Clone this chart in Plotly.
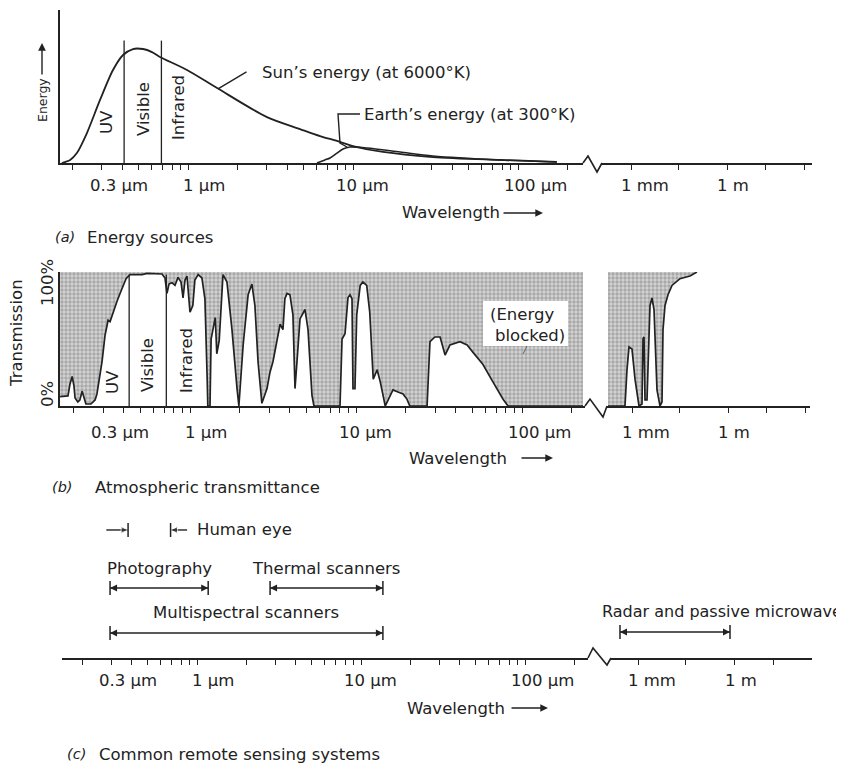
import math
import plotly.graph_objects as go

W, H = 844, 765
OFF = 8  # page body margin of the browser
INK = "#222222"
FONT = "DejaVu Sans"
FS = 16.5

# ---------------- data (wavelengths in µm) ----------------
# (a) Energy sources: relative spectral energy
sun_wavelength = [0.172, 0.193, 0.212, 0.244, 0.293, 0.351, 0.404, 0.464, 0.534, 0.605, 0.676,
                  0.986, 1.50, 3.01, 4.77, 6.31, 8.0, 10.0, 15.2, 30.5, 77.8, 172]
sun_energy = [0, 0.02, 0.065, 0.196, 0.412, 0.608, 0.706, 0.745, 0.745, 0.725, 0.693,
              0.608, 0.49, 0.30, 0.222, 0.176, 0.144, 0.111, 0.072, 0.039, 0.02, 0.007]
earth_wavelength = [6.05, 6.76, 7.26, 8.0, 8.7, 9.59, 12.2, 19.3, 30.5, 77.8, 172]
earth_energy = [0, 0.02, 0.033, 0.065, 0.092, 0.105, 0.098, 0.072, 0.046, 0.02, 0.007]
band_edges_a = [0.41, 0.69]
band_top_a = 0.80
band_names = ["UV", "Visible", "Infrared"]

# (b) Atmospheric transmittance (%)
trans_wavelength = [0.165, 0.184, 0.189, 0.195, 0.200, 0.203, 0.211, 0.217, 0.224, 0.230,
                    0.236, 0.253, 0.268, 0.275, 0.287, 0.295, 0.308, 0.316, 0.321, 0.330,
                    0.344, 0.363, 0.379, 0.395, 0.412, 0.435, 0.514, 0.551, 0.678, 0.707,
                    0.727, 0.747, 0.779, 0.812, 0.847, 0.883, 0.908, 0.933, 0.959, 1.00,
                    1.04, 1.07, 1.12, 1.18, 1.23, 1.27, 1.28, 1.32, 1.34, 1.42,
                    1.45, 1.50, 1.54, 1.58, 1.67, 1.79, 1.92, 1.97, 2.09, 2.24,
                    2.36, 2.46, 2.57, 2.71, 2.91, 3.03, 3.16, 3.34, 3.49, 3.63,
                    3.73, 3.84, 4.00, 4.17, 4.29, 4.41, 4.60, 4.93, 5.14, 5.43,
                    5.58, 8.01, 8.24, 8.59, 8.95, 9.20, 9.46, 9.59, 9.86, 10.1,
                    10.6, 11.0, 11.6, 12.1, 12.7, 13.4, 14.0, 15.0, 16.0, 16.7,
                    17.9, 19.2, 20.3, 21.1, 26.8, 27.9, 29.9, 32.1, 34.4, 36.8,
                    42.3, 46.7, 50.7, 58.2, 66.8, 76.9, 82.4, 233]
trans_percent = [7, 7.5, 16, 22, 15, 6, 3, 4.5, 11, 6,
                 1.5, 1.5, 4.5, 9, 23, 33, 53, 61, 64, 63,
                 70, 78, 84, 90, 95, 98, 98, 99, 98.5, 95.5,
                 84, 91, 92, 90, 96, 92.5, 80.6, 94, 97, 70,
                 75, 94, 98, 95.5, 80, 19, 0, 0, 50, 66,
                 39, 49, 79, 98, 92.5, 57, 13, 0, 45.5, 83,
                 91, 75, 33, 2, 13, 25, 33, 50, 61, 57,
                 80, 84, 83, 68, 13, 33, 65, 72, 57, 8,
                 0, 0, 50, 54, 81, 83, 80, 13, 13, 68,
                 90, 92.5, 90, 70, 20, 27, 18, 0, 8, 12,
                 10.4, 9, 5, 0, 0, 48, 51.5, 51.5, 38, 45.5,
                 48, 45.5, 40, 31, 18, 5, 0, 0]
trans_mw_wavelength = [178, 604, 698, 806, 1000, 1241, 1656, 2054, 2208, 2371, 2548, 2943,
                       3652, 4217, 4870, 6040, 7499, 8660, 9306, 10750, 13335, 17780,
                       31620, 64940, 107000]
trans_mw_percent = [0, 0, 27, 44, 42.5, 20, 0, 1.5, 50, 51.5, 4.5, 4.5,
                    75, 80.6, 72, 12, 0, 3, 57, 75, 83, 90,
                    95, 97, 100]
band_edges_b = [0.43, 0.72]
band_top_b = 98

# (c) Common remote sensing systems
systems = ["Photography", "Thermal scanners", "Multispectral scanners",
           "Radar and passive microwave"]
system_start = [0.295, 2.79, 0.295, 277]
system_end = [1.17, 13.6, 13.6, 7.05e5]
system_level = [0.473, 0.473, 0.169, 0.176]
eye_range = [0.38, 0.69]
eye_outer = [0.28, 0.87]
eye_level = 0.865

# axis ticks
pre_ticks = [0.2, 0.3, 0.4, 0.5, 0.6, 0.7, 0.8, 0.9, 1, 2, 3, 4, 5, 6, 7, 8, 9,
             10, 20, 30, 40, 50, 60, 70, 80, 90, 100, 200]
post_ticks = [1e3, 3e4, 1e6, 1.6e7, 2.6e8]
pre_label_vals = [0.3, 1, 10, 100]
pre_label_text = ["0.3 µm", "1 µm", "10 µm", "100 µm"]
post_label_vals = [1e3, 1e6]
post_label_text = ["1 mm", "1 m"]
label_shift_pre = [-14, -7, -19, -16]
label_shift_post = [-12, -12]

# ---------------- layout geometry (page pixels) ----------------
def fx(x):
    return (x - OFF) / W


def fy(y):
    return 1 - (y - OFF) / H


P = {
    "a": dict(xpre="x", xpost="x2", y="y", pre_dom=(60, 583), pre_ref=(188, 1.0, 165),
              post_dom=(602, 812), post_ref=(631, 1e3, 32), ydom=(10, 163), yrange=[0, 1],
              base=163, zig=[(583, 163), (588, 156), (597, 172), (602, 163)]),
    "b": dict(xpre="x3", xpost="x4", y="y2", pre_dom=(60, 585), pre_ref=(190, 1.0, 166),
              post_dom=(607, 810), post_ref=(632, 1e3, 32), ydom=(272, 406), yrange=[0, 100],
              base=406, zig=[(585, 406), (590, 399), (603, 417), (607, 406)]),
    "c": dict(xpre="x5", xpost="x6", y="y3", pre_dom=(62, 588), pre_ref=(197, 1.0, 164),
              post_dom=(611, 812), post_ref=(638, 1e3, 32.3), ydom=(510, 658), yrange=[0, 1],
              base=658, zig=[(588, 658), (593, 648), (607, 665), (611, 658)]),
}


def key(name):
    return ("xaxis" if name[0] == "x" else "yaxis") + name[1:]


def log_range(dom, ref):
    rpx, rwl, ppd = ref
    return [math.log10(rwl) + (dom[0] - rpx) / ppd, math.log10(rwl) + (dom[1] - rpx) / ppd]


layout = dict(width=W, height=H, margin=dict(l=0, r=0, t=0, b=0),
              paper_bgcolor="white", plot_bgcolor="rgba(0,0,0,0)", showlegend=False,
              font=dict(family=FONT, size=FS, color=INK))

shapes = []
ann = []

for pid, p in P.items():
    for xn, dom, ref, tv in [(p["xpre"], p["pre_dom"], p["pre_ref"], pre_ticks),
                             (p["xpost"], p["post_dom"], p["post_ref"], post_ticks)]:
        layout[key(xn)] = dict(domain=[fx(dom[0]), fx(dom[1])], type="log",
                               range=log_range(dom, ref), anchor=p["y"],
                               showline=True, linecolor=INK, linewidth=1.6,
                               ticks="outside", ticklen=5, tickwidth=1.3, tickcolor=INK,
                               tickvals=tv, showticklabels=False, showgrid=False,
                               zeroline=False, fixedrange=True)
    layout[key(p["y"])] = dict(domain=[fy(p["ydom"][1]), fy(p["ydom"][0])], range=p["yrange"],
                               anchor=p["xpre"], showline=(pid != "c"), linecolor=INK,
                               linewidth=1.6, ticks="", showticklabels=False, showgrid=False,
                               zeroline=False, visible=(pid != "c"), fixedrange=True)
    # axis break zigzag
    path = "M " + " L ".join(f"{fx(a)},{fy(b)}" for a, b in p["zig"])
    shapes.append(dict(type="path", path=path, xref="paper", yref="paper",
                       line=dict(color=INK, width=1.6)))
    # tick labels
    ly = fy(p["base"] + (22 if pid != "b" else 26))
    for vals, texts, shifts, xn in [(pre_label_vals, pre_label_text, label_shift_pre, p["xpre"]),
                                    (post_label_vals, post_label_text, label_shift_post, p["xpost"])]:
        for v, t, s in zip(vals, texts, shifts):
            ann.append(dict(x=math.log10(v), xref=xn, y=ly, yref="paper", text=t,
                            showarrow=False, xanchor="left", yanchor="middle", xshift=s,
                            font=dict(family=FONT, size=FS, color=INK)))


def text(x, y, s, anchor="left", angle=0, size=FS):
    ann.append(dict(x=fx(x), y=fy(y), xref="paper", yref="paper", text=s, showarrow=False,
                    xanchor=anchor, yanchor="middle", textangle=angle,
                    font=dict(family=FONT, size=size, color=INK)))


def arrow(x_tip, y_tip, dx, dy):
    ann.append(dict(x=fx(x_tip), y=fy(y_tip), xref="paper", yref="paper", text="",
                    showarrow=True, ax=dx, ay=dy, arrowhead=2, arrowsize=1.1,
                    arrowwidth=1.4, arrowcolor=INK))


traces = []
LINE = dict(color=INK, width=1.7)

# ---------------- (a) ----------------
traces.append(go.Scatter(x=sun_wavelength, y=sun_energy, xaxis="x", yaxis="y", mode="lines",
                         line=dict(color=INK, width=1.8, shape="spline", smoothing=0.8)))
traces.append(go.Scatter(x=earth_wavelength, y=earth_energy, xaxis="x", yaxis="y", mode="lines",
                         line=dict(color=INK, width=1.6, shape="spline", smoothing=0.8)))
for e in band_edges_a:
    traces.append(go.Scatter(x=[e, e], y=[0, band_top_a], xaxis="x", yaxis="y", mode="lines",
                             line=dict(color=INK, width=1.3)))

text(42, 100, "Energy", "center", -90, size=12.5)
arrow(42, 43, 0, 33)
for (cx, cy), s in zip([(106, 122), (144, 109), (179, 108)], band_names):
    text(cx, cy, s, "center", -90)
text(260, 72, "Sun’s energy (at 6000°K)")
text(362, 115, "Earth’s energy (at 300°K)")
# leader to sun curve
ann.append(dict(x=math.log10(1.52), y=0.484, xref="x", yref="y", text="", showarrow=True,
                ax=30, ay=-18, arrowhead=0, arrowwidth=1.4, arrowcolor=INK))
shapes.append(dict(type="path", xref="paper", yref="paper",
                   path=f"M {fx(360)},{fy(114)} L {fx(338)},{fy(114)} L {fx(340)},{fy(143)} L {fx(347)},{fy(147)}",
                   line=dict(color=INK, width=1.4)))
text(400, 213, "Wavelength")
arrow(543, 213, -41, 0)
text(53, 237, "<i>(a)</i>", size=14.5)
text(85, 237, "Energy sources")

# ---------------- (b) ----------------
pattern = dict(shape=".", size=4, solidity=0.55, fgcolor="#7c7c7c", bgcolor="#d4d4d4")
for wl, tr, xn in [(trans_wavelength, trans_percent, "x3"),
                   (trans_mw_wavelength, trans_mw_percent, "x4")]:
    traces.append(go.Scatter(x=wl + [wl[-1], wl[0]], y=tr + [100, 100], xaxis=xn, yaxis="y2",
                             mode="lines", fill="toself", fillcolor="#c8c8c8",
                             fillpattern=pattern, line=dict(width=0)))
    traces.append(go.Scatter(x=wl, y=tr, xaxis=xn, yaxis="y2", mode="lines", line=LINE))
for e in band_edges_b:
    traces.append(go.Scatter(x=[e, e], y=[0, band_top_b], xaxis="x3", yaxis="y2", mode="lines",
                             line=dict(color=INK, width=1.3)))

shapes.append(dict(type="rect", xref="paper", yref="paper", x0=fx(483), x1=fx(568),
                   y0=fy(346), y1=fy(301), fillcolor="white", line=dict(width=0), layer="above"))
shapes.append(dict(type="line", xref="paper", yref="paper", x0=fx(527), y0=fy(346),
                   x1=fx(523), y1=fy(354), line=dict(color="#666", width=1), layer="above"))
text(488, 314, "(Energy")
text(493, 335, "blocked)")
text(16, 333, "Transmission", "center", -90)
text(47, 283, "100%", "center", -90)
text(47, 394, "0%", "center", -90)
for (cx, cy), s in zip([(112, 382), (147, 365), (186, 361)], band_names):
    text(cx, cy, s, "center", -90)
text(407, 458, "Wavelength")
arrow(553, 458, -33, 0)
text(50, 487, "<i>(b)</i>", size=14.5)
text(93, 487, "Atmospheric transmittance")

# ---------------- (c) ----------------
def dim_bar(xn, s, e, lvl):
    traces.append(go.Scatter(x=[s, e], y=[lvl, lvl], xaxis=xn, yaxis="y3", mode="lines+markers",
                             line=dict(color=INK, width=1.4),
                             marker=dict(symbol=["arrow-left", "arrow-right"], size=7, color=INK)))
    traces.append(go.Scatter(x=[s, e], y=[lvl, lvl], xaxis=xn, yaxis="y3", mode="markers",
                             marker=dict(symbol="line-ns", size=10,
                                         line=dict(color=INK, width=1.5))))


for name, s, e, lvl in zip(systems, system_start, system_end, system_level):
    xn = "x6" if s > 200 else "x5"
    dim_bar(xn, s, e, lvl)
    if xn == "x6":
        ann.append(dict(x=math.log10(s), xref=xn, y=lvl, yref="y3", text=name, showarrow=False,
                        xanchor="left", yanchor="middle", xshift=-20, yshift=20,
                        font=dict(family=FONT, size=16, color=INK)))
    else:
        ann.append(dict(x=(math.log10(s) + math.log10(e)) / 2, xref=xn, y=lvl, yref="y3",
                        text=name, showarrow=False, xanchor="center", yanchor="middle",
                        yshift=20, font=dict(family=FONT, size=FS, color=INK)))

# human eye: inward pointing arrows
traces.append(go.Scatter(x=[eye_outer[0], eye_range[0]], y=[eye_level, eye_level], xaxis="x5",
                         yaxis="y3", mode="lines+markers", line=dict(color=INK, width=1.4),
                         marker=dict(symbol=["circle", "arrow-right"], size=[0, 7], color=INK)))
traces.append(go.Scatter(x=[eye_range[1], eye_outer[1]], y=[eye_level, eye_level], xaxis="x5",
                         yaxis="y3", mode="lines+markers", line=dict(color=INK, width=1.4),
                         marker=dict(symbol=["arrow-left", "circle"], size=[7, 0], color=INK)))
traces.append(go.Scatter(x=eye_range, y=[eye_level, eye_level], xaxis="x5", yaxis="y3",
                         mode="markers", marker=dict(symbol="line-ns", size=10,
                                                     line=dict(color=INK, width=1.5))))
ann.append(dict(x=math.log10(eye_outer[1]), xref="x5", y=eye_level, yref="y3", text="Human eye",
                showarrow=False, xanchor="left", yanchor="middle", xshift=8,
                font=dict(family=FONT, size=FS, color=INK)))

text(405, 708, "Wavelength")
arrow(548, 708, -38, 0)
text(65, 754, "<i>(c)</i>", size=14.5)
text(97, 754, "Common remote sensing systems")

layout["shapes"] = shapes
layout["annotations"] = ann
for t in traces:
    t.update(hoverinfo="skip", showlegend=False)

fig = go.Figure(data=traces, layout=layout)
fig.write_html("out.html")
